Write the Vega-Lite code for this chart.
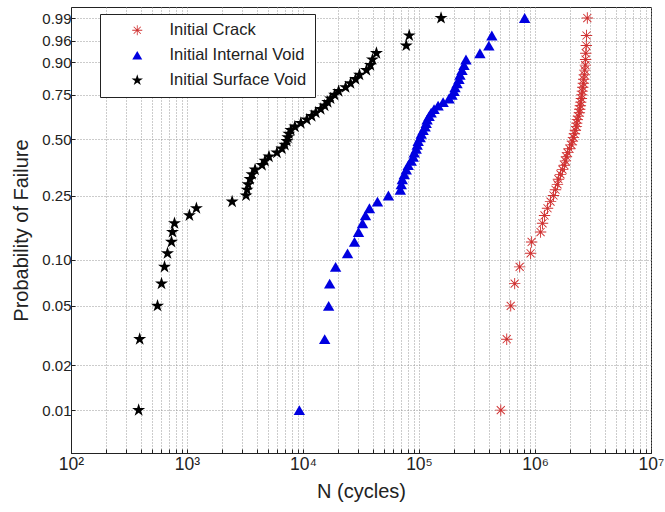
{
  "$schema": "https://vega.github.io/schema/vega-lite/v6.json",
  "width": 580,
  "height": 446,
  "autosize": {"type": "none"},
  "padding": {"left": 71, "top": 7, "right": 14, "bottom": 59},
  "background": "white",
  "config": {"view": {"stroke": "#222", "strokeWidth": 1}, "font": "Liberation Sans"},
  "datasets": {
    "pts": [
      {"series": "Initial Crack", "p": 0.01, "cycles": 507000},
      {"series": "Initial Crack", "p": 0.03, "cycles": 570500},
      {"series": "Initial Crack", "p": 0.05, "cycles": 617600},
      {"series": "Initial Crack", "p": 0.07, "cycles": 668000},
      {"series": "Initial Crack", "p": 0.09, "cycles": 737600},
      {"series": "Initial Crack", "p": 0.11, "cycles": 916600},
      {"series": "Initial Crack", "p": 0.13, "cycles": 935000},
      {"series": "Initial Crack", "p": 0.15, "cycles": 1117000},
      {"series": "Initial Crack", "p": 0.17, "cycles": 1161000},
      {"series": "Initial Crack", "p": 0.19, "cycles": 1208000},
      {"series": "Initial Crack", "p": 0.21, "cycles": 1282000},
      {"series": "Initial Crack", "p": 0.23, "cycles": 1361000},
      {"series": "Initial Crack", "p": 0.25, "cycles": 1443000},
      {"series": "Initial Crack", "p": 0.27, "cycles": 1502000},
      {"series": "Initial Crack", "p": 0.29, "cycles": 1562000},
      {"series": "Initial Crack", "p": 0.31, "cycles": 1592000},
      {"series": "Initial Crack", "p": 0.33, "cycles": 1659000},
      {"series": "Initial Crack", "p": 0.35, "cycles": 1725000},
      {"series": "Initial Crack", "p": 0.37, "cycles": 1794000},
      {"series": "Initial Crack", "p": 0.39, "cycles": 1829000},
      {"series": "Initial Crack", "p": 0.41, "cycles": 1866000},
      {"series": "Initial Crack", "p": 0.43, "cycles": 1905000},
      {"series": "Initial Crack", "p": 0.45, "cycles": 1982000},
      {"series": "Initial Crack", "p": 0.47, "cycles": 2061000},
      {"series": "Initial Crack", "p": 0.49, "cycles": 2101000},
      {"series": "Initial Crack", "p": 0.51, "cycles": 2143000},
      {"series": "Initial Crack", "p": 0.53, "cycles": 2186000},
      {"series": "Initial Crack", "p": 0.55, "cycles": 2229000},
      {"series": "Initial Crack", "p": 0.57, "cycles": 2274000},
      {"series": "Initial Crack", "p": 0.59, "cycles": 2290000},
      {"series": "Initial Crack", "p": 0.61, "cycles": 2317000},
      {"series": "Initial Crack", "p": 0.63, "cycles": 2366000},
      {"series": "Initial Crack", "p": 0.65, "cycles": 2413000},
      {"series": "Initial Crack", "p": 0.67, "cycles": 2430000},
      {"series": "Initial Crack", "p": 0.69, "cycles": 2461000},
      {"series": "Initial Crack", "p": 0.71, "cycles": 2480000},
      {"series": "Initial Crack", "p": 0.73, "cycles": 2512000},
      {"series": "Initial Crack", "p": 0.75, "cycles": 2530000},
      {"series": "Initial Crack", "p": 0.77, "cycles": 2560000},
      {"series": "Initial Crack", "p": 0.79, "cycles": 2580000},
      {"series": "Initial Crack", "p": 0.81, "cycles": 2612000},
      {"series": "Initial Crack", "p": 0.83, "cycles": 2630000},
      {"series": "Initial Crack", "p": 0.85, "cycles": 2663000},
      {"series": "Initial Crack", "p": 0.87, "cycles": 2680000},
      {"series": "Initial Crack", "p": 0.89, "cycles": 2716000},
      {"series": "Initial Crack", "p": 0.91, "cycles": 2730000},
      {"series": "Initial Crack", "p": 0.93, "cycles": 2740000},
      {"series": "Initial Crack", "p": 0.95, "cycles": 2770000},
      {"series": "Initial Crack", "p": 0.97, "cycles": 2780000},
      {"series": "Initial Crack", "p": 0.99, "cycles": 2825000},
      {"series": "Initial Internal Void", "p": 0.01, "cycles": 9300},
      {"series": "Initial Internal Void", "p": 0.03, "cycles": 15380},
      {"series": "Initial Internal Void", "p": 0.05, "cycles": 16640},
      {"series": "Initial Internal Void", "p": 0.07, "cycles": 16980},
      {"series": "Initial Internal Void", "p": 0.09, "cycles": 19100},
      {"series": "Initial Internal Void", "p": 0.11, "cycles": 24210},
      {"series": "Initial Internal Void", "p": 0.13, "cycles": 27800},
      {"series": "Initial Internal Void", "p": 0.15, "cycles": 30100},
      {"series": "Initial Internal Void", "p": 0.17, "cycles": 32580},
      {"series": "Initial Internal Void", "p": 0.19, "cycles": 34560},
      {"series": "Initial Internal Void", "p": 0.21, "cycles": 37410},
      {"series": "Initial Internal Void", "p": 0.23, "cycles": 43850},
      {"series": "Initial Internal Void", "p": 0.25, "cycles": 54480},
      {"series": "Initial Internal Void", "p": 0.27, "cycles": 69000},
      {"series": "Initial Internal Void", "p": 0.29, "cycles": 70340},
      {"series": "Initial Internal Void", "p": 0.31, "cycles": 71770},
      {"series": "Initial Internal Void", "p": 0.33, "cycles": 74650},
      {"series": "Initial Internal Void", "p": 0.35, "cycles": 77660},
      {"series": "Initial Internal Void", "p": 0.37, "cycles": 80760},
      {"series": "Initial Internal Void", "p": 0.39, "cycles": 85700},
      {"series": "Initial Internal Void", "p": 0.41, "cycles": 89130},
      {"series": "Initial Internal Void", "p": 0.43, "cycles": 91000},
      {"series": "Initial Internal Void", "p": 0.45, "cycles": 94600},
      {"series": "Initial Internal Void", "p": 0.47, "cycles": 96500},
      {"series": "Initial Internal Void", "p": 0.49, "cycles": 98400},
      {"series": "Initial Internal Void", "p": 0.51, "cycles": 102400},
      {"series": "Initial Internal Void", "p": 0.53, "cycles": 104500},
      {"series": "Initial Internal Void", "p": 0.55, "cycles": 108600},
      {"series": "Initial Internal Void", "p": 0.57, "cycles": 113000},
      {"series": "Initial Internal Void", "p": 0.59, "cycles": 115300},
      {"series": "Initial Internal Void", "p": 0.61, "cycles": 117500},
      {"series": "Initial Internal Void", "p": 0.63, "cycles": 122200},
      {"series": "Initial Internal Void", "p": 0.65, "cycles": 127300},
      {"series": "Initial Internal Void", "p": 0.67, "cycles": 134900},
      {"series": "Initial Internal Void", "p": 0.69, "cycles": 146100},
      {"series": "Initial Internal Void", "p": 0.71, "cycles": 161400},
      {"series": "Initial Internal Void", "p": 0.73, "cycles": 181600},
      {"series": "Initial Internal Void", "p": 0.75, "cycles": 192600},
      {"series": "Initial Internal Void", "p": 0.77, "cycles": 200400},
      {"series": "Initial Internal Void", "p": 0.79, "cycles": 204400},
      {"series": "Initial Internal Void", "p": 0.81, "cycles": 212600},
      {"series": "Initial Internal Void", "p": 0.83, "cycles": 221100},
      {"series": "Initial Internal Void", "p": 0.85, "cycles": 225500},
      {"series": "Initial Internal Void", "p": 0.87, "cycles": 234800},
      {"series": "Initial Internal Void", "p": 0.89, "cycles": 244200},
      {"series": "Initial Internal Void", "p": 0.91, "cycles": 254100},
      {"series": "Initial Internal Void", "p": 0.93, "cycles": 335000},
      {"series": "Initial Internal Void", "p": 0.95, "cycles": 400000},
      {"series": "Initial Internal Void", "p": 0.97, "cycles": 424500},
      {"series": "Initial Internal Void", "p": 0.99, "cycles": 814400},
      {"series": "Initial Surface Void", "p": 0.01, "cycles": 383},
      {"series": "Initial Surface Void", "p": 0.03, "cycles": 391},
      {"series": "Initial Surface Void", "p": 0.05, "cycles": 557},
      {"series": "Initial Surface Void", "p": 0.07, "cycles": 603},
      {"series": "Initial Surface Void", "p": 0.09, "cycles": 640},
      {"series": "Initial Surface Void", "p": 0.11, "cycles": 679},
      {"series": "Initial Surface Void", "p": 0.13, "cycles": 735},
      {"series": "Initial Surface Void", "p": 0.15, "cycles": 750},
      {"series": "Initial Surface Void", "p": 0.17, "cycles": 780},
      {"series": "Initial Surface Void", "p": 0.19, "cycles": 1049},
      {"series": "Initial Surface Void", "p": 0.21, "cycles": 1205},
      {"series": "Initial Surface Void", "p": 0.23, "cycles": 2450},
      {"series": "Initial Surface Void", "p": 0.25, "cycles": 3230},
      {"series": "Initial Surface Void", "p": 0.27, "cycles": 3296},
      {"series": "Initial Surface Void", "p": 0.29, "cycles": 3365},
      {"series": "Initial Surface Void", "p": 0.31, "cycles": 3500},
      {"series": "Initial Surface Void", "p": 0.33, "cycles": 3640},
      {"series": "Initial Surface Void", "p": 0.35, "cycles": 3863},
      {"series": "Initial Surface Void", "p": 0.37, "cycles": 4436},
      {"series": "Initial Surface Void", "p": 0.39, "cycles": 4700},
      {"series": "Initial Surface Void", "p": 0.41, "cycles": 5090},
      {"series": "Initial Surface Void", "p": 0.43, "cycles": 5960},
      {"series": "Initial Surface Void", "p": 0.45, "cycles": 6580},
      {"series": "Initial Surface Void", "p": 0.47, "cycles": 6980},
      {"series": "Initial Surface Void", "p": 0.49, "cycles": 7260},
      {"series": "Initial Surface Void", "p": 0.51, "cycles": 7410},
      {"series": "Initial Surface Void", "p": 0.53, "cycles": 7550},
      {"series": "Initial Surface Void", "p": 0.55, "cycles": 7860},
      {"series": "Initial Surface Void", "p": 0.57, "cycles": 8510},
      {"series": "Initial Surface Void", "p": 0.59, "cycles": 9580},
      {"series": "Initial Surface Void", "p": 0.61, "cycles": 10790},
      {"series": "Initial Surface Void", "p": 0.63, "cycles": 11890},
      {"series": "Initial Surface Void", "p": 0.65, "cycles": 12880},
      {"series": "Initial Surface Void", "p": 0.67, "cycles": 14220},
      {"series": "Initial Surface Void", "p": 0.69, "cycles": 15380},
      {"series": "Initial Surface Void", "p": 0.71, "cycles": 16330},
      {"series": "Initial Surface Void", "p": 0.73, "cycles": 17300},
      {"series": "Initial Surface Void", "p": 0.75, "cycles": 18740},
      {"series": "Initial Surface Void", "p": 0.77, "cycles": 20280},
      {"series": "Initial Surface Void", "p": 0.79, "cycles": 23290},
      {"series": "Initial Surface Void", "p": 0.81, "cycles": 25700},
      {"series": "Initial Surface Void", "p": 0.83, "cycles": 28370},
      {"series": "Initial Surface Void", "p": 0.85, "cycles": 30690},
      {"series": "Initial Surface Void", "p": 0.87, "cycles": 35240},
      {"series": "Initial Surface Void", "p": 0.89, "cycles": 38120},
      {"series": "Initial Surface Void", "p": 0.91, "cycles": 39700},
      {"series": "Initial Surface Void", "p": 0.93, "cycles": 42960},
      {"series": "Initial Surface Void", "p": 0.95, "cycles": 77660},
      {"series": "Initial Surface Void", "p": 0.97, "cycles": 82400},
      {"series": "Initial Surface Void", "p": 0.99, "cycles": 154900}
    ]
  },
  "data": {"name": "pts"},
  "transform": [{"calculate": "log(-log(1 - datum.p))", "as": "weibull"}],
  "mark": {"type": "point", "filled": true, "opacity": 1, "size": 130},
  "encoding": {
    "x": {
      "field": "cycles",
      "type": "quantitative",
      "scale": {"type": "log", "domain": [100, 10000000], "nice": false},
      "axis": {
        "title": "N (cycles)",
        "values": [100,200,300,400,500,600,700,800,900,1000,2000,3000,4000,5000,6000,7000,8000,9000,10000,20000,30000,40000,50000,60000,70000,80000,90000,100000,200000,300000,400000,500000,600000,700000,800000,900000,1000000,2000000,3000000,4000000,5000000,6000000,7000000,8000000,9000000,10000000],
        "labelExpr": "datum.value == 100 ? '10²' : datum.value == 1000 ? '10³' : datum.value == 10000 ? '10⁴' : datum.value == 100000 ? '10⁵' : datum.value == 1000000 ? '10⁶' : datum.value == 10000000 ? '10⁷' : ''",
        "grid": true,
        "gridDash": [1, 2],
        "gridColor": "#999",
        "gridOpacity": 1,
        "ticks": true,
        "tickSize": -4,
        "tickColor": "#222",
        "domainColor": "#222",
        "labelFontSize": 17.5,
        "labelColor": "#222",
        "labelPadding": 6,
        "labelFlush": false,
        "labelOverlap": false,
        "titleFontSize": 20,
        "titleFontWeight": "normal",
        "titleColor": "#222",
        "titleX": 290,
        "titleY": 38,
        "titleBaseline": "middle"
      }
    },
    "y": {
      "field": "weibull",
      "type": "quantitative",
      "scale": {"domain": [-5.27, 1.70], "nice": false, "zero": false},
      "axis": {
        "title": "Probability of Failure",
        "values": [-4.60015, -3.90194, -2.97020, -2.25037, -1.24590, -0.36651, 0.32663, 0.83403, 1.16903, 1.52718],
        "labelExpr": "format(1 - exp(-exp(datum.value)), '.2f')",
        "grid": true,
        "gridDash": [1, 2],
        "gridColor": "#999",
        "gridOpacity": 1,
        "ticks": true,
        "tickSize": -4,
        "tickColor": "#222",
        "domainColor": "#222",
        "labelFontSize": 15,
        "labelColor": "#222",
        "labelPadding": 4,
        "labelOverlap": false,
        "titleFontSize": 20,
        "titleFontWeight": "normal",
        "titleColor": "#222",
        "titleX": -50,
        "titleY": 223,
        "titleAngle": -90,
        "titleAlign": "center",
        "titleBaseline": "middle"
      }
    },
    "color": {
      "field": "series",
      "type": "nominal",
      "scale": {"domain": ["Initial Crack", "Initial Internal Void", "Initial Surface Void"], "range": ["#d03030", "#0000e0", "#000000"]},
      "legend": {
        "title": null,
        "orient": "none",
        "legendX": 29,
        "legendY": 7,
        "fillColor": "white",
        "strokeColor": "#222",
        "padding": 8,
        "labelFontSize": 16.5,
        "labelColor": "#222",
        "rowPadding": 8,
        "symbolOffset": 21,
        "labelOffset": 24,
        "symbolSize": 100
      }
    },
    "shape": {
      "field": "series",
      "type": "nominal",
      "scale": {"domain": ["Initial Crack", "Initial Internal Void", "Initial Surface Void"], "range": ["M-1,-0.08H1V0.08H-1Z M-0.08,-1H0.08V1H-0.08Z M0.65,0.764L-0.764,-0.65L-0.65,-0.764L0.764,0.65Z M0.764,-0.65L-0.65,0.764L-0.764,0.65L0.65,-0.764Z", "triangle-up", "M0,-1.2L0.269,-0.371L1.141,-0.371L0.436,0.142L0.706,0.971L0,0.458L-0.706,0.971L-0.436,0.142L-1.141,-0.371L-0.269,-0.371Z"]}
    }
  }
}
